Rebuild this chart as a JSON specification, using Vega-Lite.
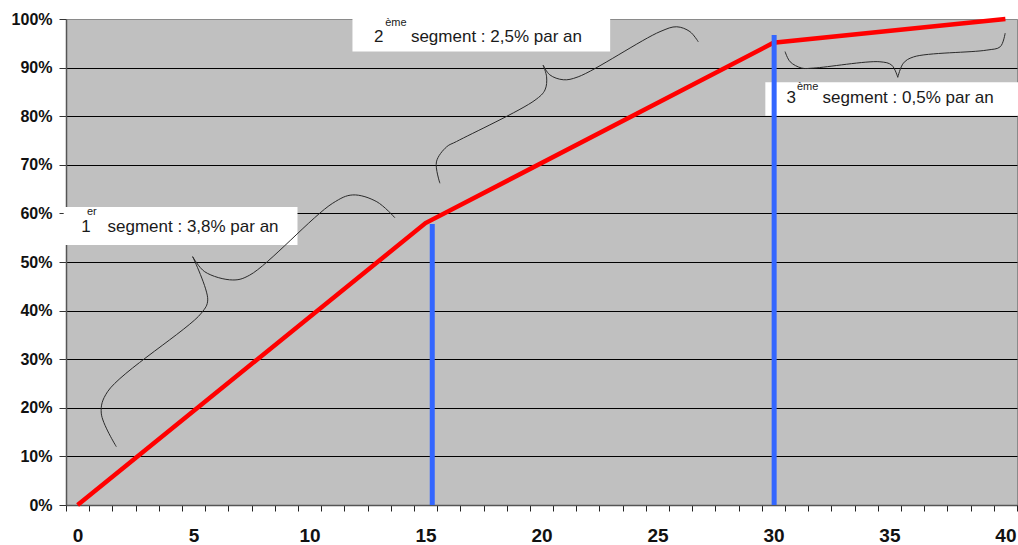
{
  "$schema": "https://vega.github.io/schema/vega-lite/v6.json",
  "width": 951,
  "height": 486,
  "autosize": "none",
  "padding": {"left": 66, "top": 19, "right": 1, "bottom": 40},
  "background": "white",
  "config": {
    "view": {"fill": "#c0c0c0", "stroke": "#8a8a8a", "strokeWidth": 1},
    "font": "Liberation Sans"
  },
  "datasets": {
    "curve": [
      {"x": 0, "y": 0},
      {"x": 15, "y": 0.58},
      {"x": 30, "y": 0.951},
      {"x": 40, "y": 1.0}
    ],
    "limits": [
      {"x": 15.29, "y": 0, "y2": 0.578},
      {"x": 30.03, "y": 0, "y2": 0.967}
    ],
    "boxes": [
      {"x": -0.6, "x2": 9.48, "y": 0.613, "y2": 0.535},
      {"x": 11.85, "x2": 22.96, "y": 1.0, "y2": 0.933},
      {"x": 29.65, "x2": 40.8, "y": 0.87, "y2": 0.801}
    ],
    "labels": [
      {"x": 0.16, "y": 0.562, "t": "1", "sup": false},
      {"x": 0.40, "y": 0.597, "t": "er", "sup": true},
      {"x": 1.29, "y": 0.562, "t": "segment : 3,8% par an", "sup": false},
      {"x": 12.78, "y": 0.953, "t": "2", "sup": false},
      {"x": 13.26, "y": 0.985, "t": "ème", "sup": true},
      {"x": 14.37, "y": 0.953, "t": "segment : 2,5% par an", "sup": false},
      {"x": 30.56, "y": 0.8265, "t": "3", "sup": false},
      {"x": 31.01, "y": 0.854, "t": "ème", "sup": true},
      {"x": 32.12, "y": 0.8265, "t": "segment : 0,5% par an", "sup": false}
    ],
    "braces": [
      {"p": "1a", "i": 0, "x": 1.67, "y": 0.12},
      {"p": "1a", "i": 1, "x": 1.02, "y": 0.189},
      {"p": "1a", "i": 2, "x": 1.29, "y": 0.233},
      {"p": "1a", "i": 3, "x": 5.34, "y": 0.395},
      {"p": "1a", "i": 4, "x": 5.61, "y": 0.422},
      {"p": "1a", "i": 5, "x": 4.96, "y": 0.511},
      {"p": "1b", "i": 0, "x": 4.96, "y": 0.511},
      {"p": "1b", "i": 1, "x": 5.48, "y": 0.48},
      {"p": "1b", "i": 2, "x": 6.69, "y": 0.463},
      {"p": "1b", "i": 3, "x": 7.42, "y": 0.473},
      {"p": "1b", "i": 4, "x": 11.0, "y": 0.621},
      {"p": "1b", "i": 5, "x": 11.86, "y": 0.638},
      {"p": "1b", "i": 6, "x": 12.9, "y": 0.624},
      {"p": "1b", "i": 7, "x": 13.68, "y": 0.591},
      {"p": "2a", "i": 0, "x": 15.62, "y": 0.662},
      {"p": "2a", "i": 1, "x": 15.47, "y": 0.706},
      {"p": "2a", "i": 2, "x": 15.91, "y": 0.737},
      {"p": "2a", "i": 3, "x": 16.34, "y": 0.748},
      {"p": "2a", "i": 4, "x": 19.72, "y": 0.833},
      {"p": "2a", "i": 5, "x": 20.15, "y": 0.854},
      {"p": "2a", "i": 6, "x": 20.22, "y": 0.881},
      {"p": "2a", "i": 7, "x": 20.07, "y": 0.905},
      {"p": "2b", "i": 0, "x": 20.07, "y": 0.905},
      {"p": "2b", "i": 1, "x": 20.36, "y": 0.885},
      {"p": "2b", "i": 2, "x": 20.94, "y": 0.875},
      {"p": "2b", "i": 3, "x": 21.58, "y": 0.881},
      {"p": "2b", "i": 4, "x": 25.11, "y": 0.974},
      {"p": "2b", "i": 5, "x": 25.83, "y": 0.984},
      {"p": "2b", "i": 6, "x": 26.4, "y": 0.974},
      {"p": "2b", "i": 7, "x": 26.76, "y": 0.953},
      {"p": "3a", "i": 0, "x": 30.5, "y": 0.933},
      {"p": "3a", "i": 1, "x": 30.72, "y": 0.912},
      {"p": "3a", "i": 2, "x": 31.22, "y": 0.899},
      {"p": "3a", "i": 3, "x": 31.72, "y": 0.899},
      {"p": "3a", "i": 4, "x": 34.59, "y": 0.912},
      {"p": "3a", "i": 5, "x": 35.1, "y": 0.905},
      {"p": "3a", "i": 6, "x": 35.36, "y": 0.88},
      {"p": "3b", "i": 0, "x": 35.36, "y": 0.88},
      {"p": "3b", "i": 1, "x": 35.6, "y": 0.909},
      {"p": "3b", "i": 2, "x": 36.04, "y": 0.922},
      {"p": "3b", "i": 3, "x": 39.2, "y": 0.936},
      {"p": "3b", "i": 4, "x": 39.78, "y": 0.943},
      {"p": "3b", "i": 5, "x": 39.99, "y": 0.971}
    ]
  },
  "layer": [
    {
      "data": {"name": "curve"},
      "mark": {"type": "line", "opacity": 0},
      "encoding": {
        "x": {
          "field": "x", "type": "quantitative",
          "scale": {"domain": [-0.5, 40.5], "nice": false, "zero": false},
          "axis": {
            "title": null,
            "values": [-0.5, 0.5, 1.5, 2.5, 3.5, 4.5, 5.5, 6.5, 7.5, 8.5, 9.5, 10.5, 11.5, 12.5, 13.5, 14.5, 15.5, 16.5, 17.5, 18.5, 19.5, 20.5, 21.5, 22.5, 23.5, 24.5, 25.5, 26.5, 27.5, 28.5, 29.5, 30.5, 31.5, 32.5, 33.5, 34.5, 35.5, 36.5, 37.5, 38.5, 39.5, 40.5],
            "tickCount": 100,
            "labelExpr": "(datum.value + 0.5) % 5 == 0 ? format(datum.value + 0.5, 'd') : ''",
            "labelOffset": 11.6,
            "labelFlush": false,
            "labelOverlap": false,
            "labelBound": false,
            "labelFontSize": 19,
            "labelFontWeight": "bold",
            "labelColor": "#111",
            "labelPadding": 15,
            "tickSize": 6,
            "tickColor": "#222",
            "domainColor": "#555",
            "domainWidth": 1.5,
            "grid": false
          }
        },
        "y": {
          "field": "y", "type": "quantitative",
          "scale": {"domain": [0, 1], "nice": false},
          "axis": {
            "title": null,
            "values": [0, 0.1, 0.2, 0.3, 0.4, 0.5, 0.6, 0.7, 0.8, 0.9, 1.0],
            "tickCount": 20,
            "format": ".0%",
            "labelFontSize": 16,
            "labelFontWeight": "bold",
            "labelColor": "#111",
            "labelPadding": 7,
            "tickSize": 7,
            "tickColor": "#333",
            "domainColor": "#555",
            "domainWidth": 1.5,
            "grid": true,
            "gridColor": {"condition": {"test": "datum.value >= 0.99", "value": "#8a8a8a"}, "value": "#000000"},
            "gridWidth": 1,
            "gridOpacity": 1
          }
        }
      }
    },
    {
      "data": {"name": "boxes"},
      "mark": {"type": "rect", "fill": "white", "stroke": null},
      "encoding": {
        "x": {"field": "x", "type": "quantitative"},
        "x2": {"field": "x2"},
        "y": {"field": "y", "type": "quantitative"},
        "y2": {"field": "y2"}
      }
    },
    {
      "data": {"name": "braces"},
      "mark": {"type": "line", "interpolate": "catmull-rom", "color": "#2a2a2a", "strokeWidth": 1},
      "encoding": {
        "x": {"field": "x", "type": "quantitative"},
        "y": {"field": "y", "type": "quantitative"},
        "detail": {"field": "p"},
        "order": {"field": "i", "type": "quantitative"}
      }
    },
    {
      "data": {"name": "curve"},
      "mark": {"type": "line", "color": "#ff0000", "strokeWidth": 4.5},
      "encoding": {
        "x": {"field": "x", "type": "quantitative"},
        "y": {"field": "y", "type": "quantitative"}
      }
    },
    {
      "data": {"name": "limits"},
      "mark": {"type": "rule", "color": "#3366ff", "strokeWidth": 5},
      "encoding": {
        "x": {"field": "x", "type": "quantitative"},
        "y": {"field": "y", "type": "quantitative"},
        "y2": {"field": "y2"}
      }
    },
    {
      "data": {"name": "labels"},
      "mark": {"type": "text", "align": "left", "baseline": "alphabetic", "color": "#1a1a1a", "font": "Liberation Sans"},
      "encoding": {
        "x": {"field": "x", "type": "quantitative"},
        "y": {"field": "y", "type": "quantitative"},
        "text": {"field": "t"},
        "size": {"condition": {"test": "datum.sup", "value": 11}, "value": 17}
      }
    }
  ]
}
